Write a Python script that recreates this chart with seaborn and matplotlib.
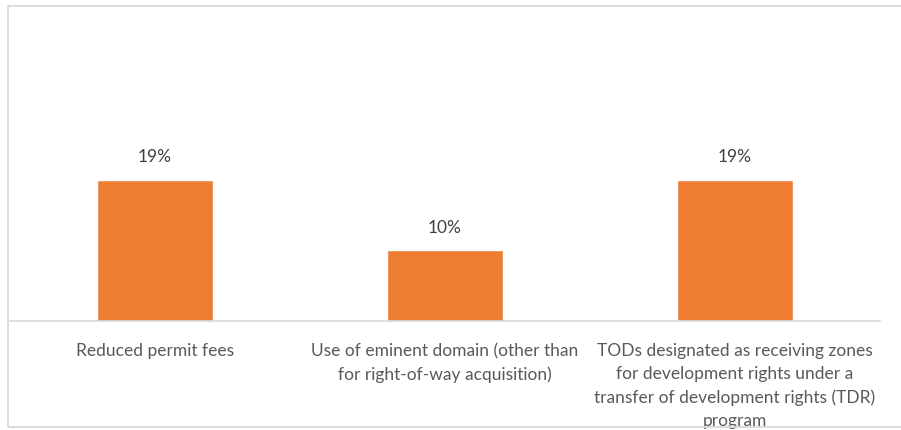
import matplotlib
matplotlib.use("Agg")
import matplotlib.pyplot as plt
import seaborn as sns
import pandas as pd
from matplotlib.patches import Rectangle

categories = [
    "Reduced permit fees",
    "Use of eminent domain (other than\nfor right-of-way acquisition)",
    "TODs designated as receiving zones\nfor development rights under a\ntransfer of development rights (TDR)\nprogram",
]
values = [0.194, 0.097, 0.194]
value_labels = ["19%", "10%", "19%"]

sns.set_theme(style="white")
plt.rcParams["font.family"] = ["Lato", "DejaVu Sans"]

df = pd.DataFrame({"cat": categories, "val": values})

fig = plt.figure(figsize=(9.01, 4.31), dpi=100)
ax = fig.add_axes([10 / 901, 109 / 431, 870 / 901, 291 / 431])
sns.barplot(data=df, x="cat", y="val", color="#ED7D31", saturation=1, width=0.4, ax=ax)

ax.set_xlim(-0.5, 2.5)
ax.set_ylim(0, 0.4)
for p, lab in zip(ax.patches, value_labels):
    ax.annotate(lab, (p.get_x() + p.get_width() / 2, p.get_height()),
                xytext=(0, 17), textcoords="offset points",
                ha="center", va="center", fontsize=12.5, color="#404040")

ax.set_xlabel("")
ax.set_ylabel("")
ax.set_yticks([])
ax.tick_params(axis="x", length=0, pad=15, labelsize=12.5, labelcolor="#595959")
for lab in ax.get_xticklabels():
    lab.set_verticalalignment("top")
    lab.set_linespacing(1.55)
for s in ["top", "right", "left"]:
    ax.spines[s].set_visible(False)
ax.spines["bottom"].set_color("#d9d9d9")
ax.spines["bottom"].set_linewidth(1.2)

border = Rectangle((8 / 901, 3 / 431), 1.0, 421 / 431, transform=fig.transFigure,
                   fill=False, edgecolor="#d9d9d9", linewidth=1.3, clip_on=False)
fig.patches.append(border)

fig.savefig("out.png", dpi=100)
